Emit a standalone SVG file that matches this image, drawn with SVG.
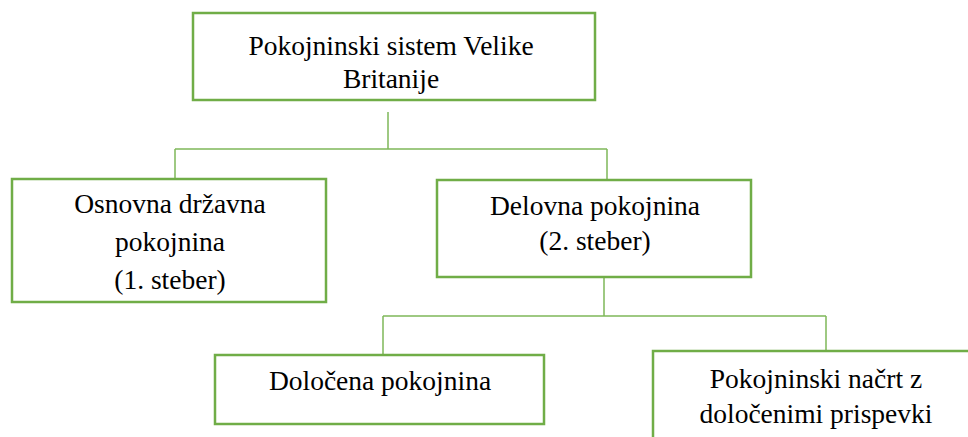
<svg xmlns="http://www.w3.org/2000/svg" width="968" height="437" viewBox="0 0 968 437">
<style>
.box{fill:#ffffff;stroke:#70ad47;stroke-width:2.5}
.ln{fill:none;stroke:#7fb85a;stroke-width:1.5}
.t{font-family:"Liberation Serif","Times New Roman",serif;font-size:27.5px;fill:#000;text-anchor:middle}
</style>
<rect width="968" height="437" fill="#ffffff"/>
<g id="connectors">
<path class="ln" d="M388,112 V149 M175,149 H607 M175,149 V179 M607,149 V180"/>
<path class="ln" d="M604,277 V316 M383,316 H826 M383,316 V355 M826,316 V351"/>
</g>
<g id="n1">
<rect class="box" x="193" y="13" width="402" height="87"/>
<text class="t" x="391" y="55">Pokojninski sistem Velike</text>
<text class="t" x="391" y="88">Britanije</text>
</g>
<g id="n2">
<rect class="box" x="12" y="179" width="314" height="123"/>
<text class="t" x="170" y="213">Osnovna državna</text>
<text class="t" x="170" y="251">pokojnina</text>
<text class="t" x="170" y="289">(1. steber)</text>
</g>
<g id="n3">
<rect class="box" x="437" y="180" width="314" height="97"/>
<text class="t" x="595" y="215">Delovna pokojnina</text>
<text class="t" x="595" y="250">(2. steber)</text>
</g>
<g id="n4">
<rect class="box" x="215" y="355" width="329" height="69"/>
<text class="t" x="380" y="390">Določena pokojnina</text>
</g>
<g id="n5">
<rect class="box" x="653" y="351" width="340" height="110"/>
<text class="t" x="816" y="388">Pokojninski načrt z</text>
<text class="t" x="816" y="423">določenimi prispevki</text>
</g>
</svg>
